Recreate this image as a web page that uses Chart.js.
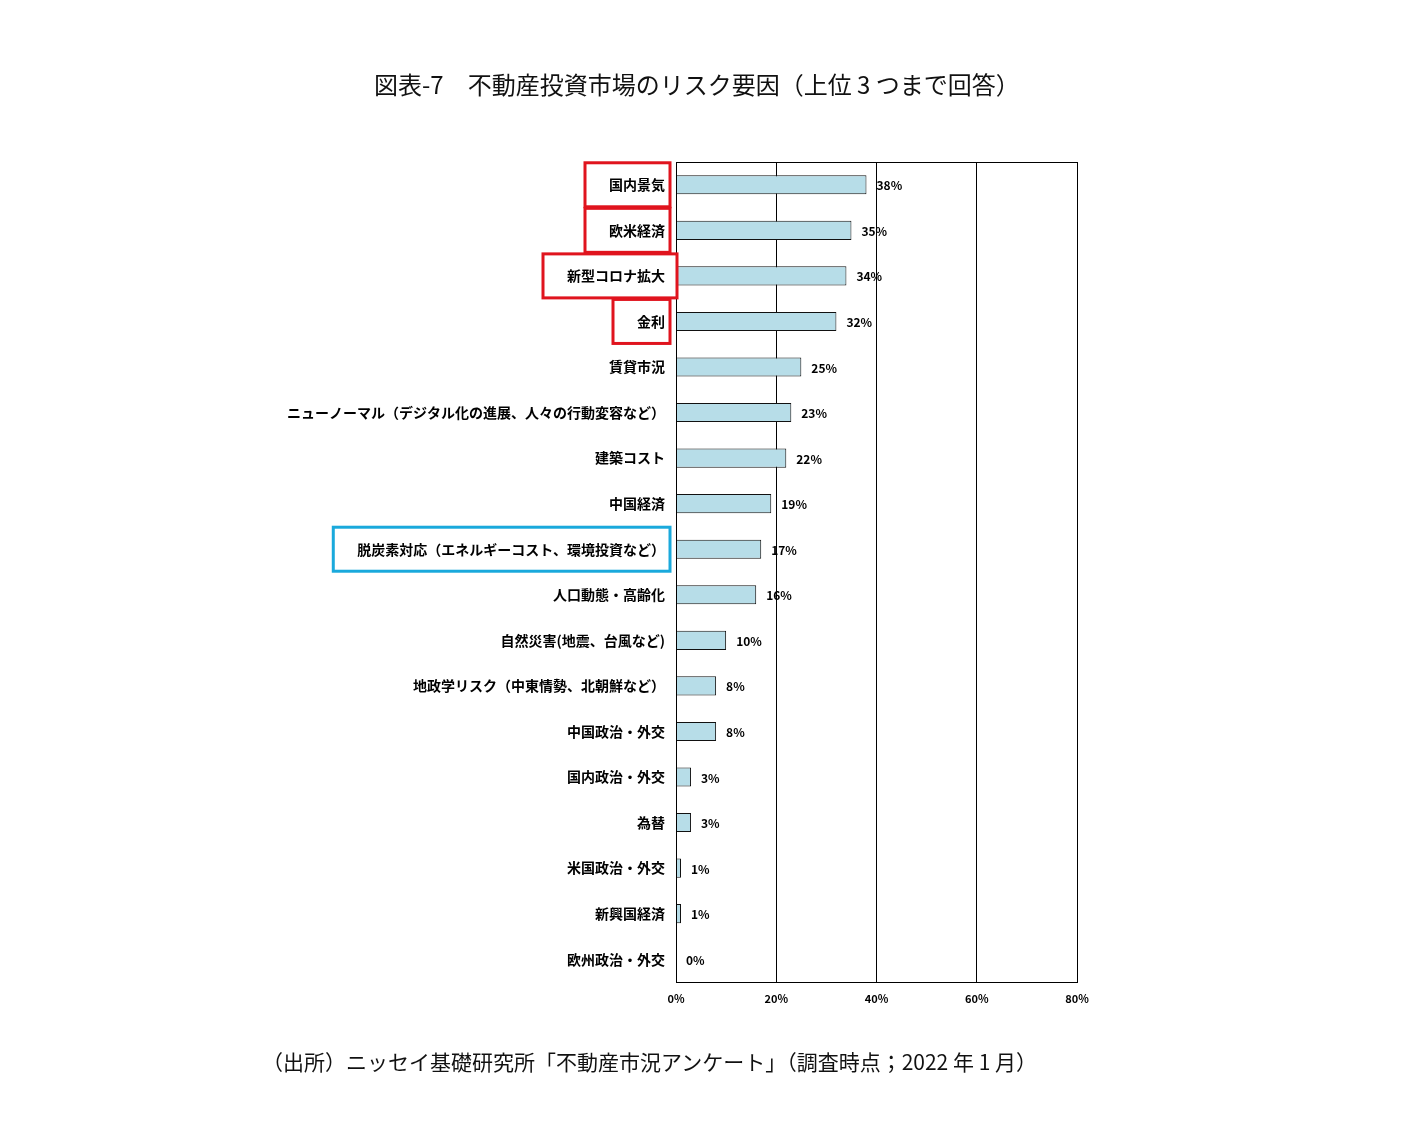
<!DOCTYPE html>
<html><head><meta charset="utf-8">
<script src="https://cdn.jsdelivr.net/npm/chart.js@4"></script>
<style>
body{margin:0;background:#fff;font-family:"Noto Sans CJK JP",sans-serif;}
#wrap{position:absolute;left:0;top:0;width:1415px;height:1128px;}
.t{position:absolute;color:#111;white-space:nowrap;}
</style></head><body>
<div id="wrap"><canvas id="c" width="1415" height="1128"></canvas></div>
<div class="t" style="left:374px;top:66px;font-size:24px;">図表-7　不動産投資市場のリスク要因（上位 3 つまで回答）</div>
<div class="t" style="left:262px;top:1046px;font-size:21px;">（出所）ニッセイ基礎研究所「不動産市況アンケート」（調査時点；2022 年 1 月）</div>
<script>
const categories = ["国内景気","欧米経済","新型コロナ拡大","金利","賃貸市況","ニューノーマル（デジタル化の進展、人々の行動変容など）","建築コスト","中国経済","脱炭素対応（エネルギーコスト、環境投資など）","人口動態・高齢化","自然災害(地震、台風など)","地政学リスク（中東情勢、北朝鮮など）","中国政治・外交","国内政治・外交","為替","米国政治・外交","新興国経済","欧州政治・外交"];
const values = [38,35,34,32,25,23,22,19,17,16,10,8,8,3,3,1,1,0];
const xTicks = [0,20,40,60,80];
const redBoxes = [0,1,2,3];
const blueBoxes = [8];
const font = '"Noto Sans CJK JP", sans-serif';

const overlay = {
  id: "overlay",
  afterDraw(chart) {
    const ctx = chart.ctx, x = chart.scales.x, y = chart.scales.y;
    const ca = chart.chartArea;
    ctx.save();
    ctx.strokeStyle = "#000"; ctx.lineWidth = 1;
    ctx.strokeRect(ca.left + 0.5, ca.top + 0.5, ca.right - ca.left, ca.bottom - ca.top);
    ctx.font = "bold 12px " + font; ctx.fillStyle = "#000"; ctx.textBaseline = "middle";
    values.forEach((v, i) => ctx.fillText(v + "%", x.getPixelForValue(v) + 10, y.getPixelForValue(i) + 1));
    ctx.font = "bold 14px " + font;
    ctx.lineWidth = 3;
    const box = (i, col) => {
      const w = ctx.measureText(categories[i]).width;
      const cy = y.getPixelForValue(i);
      const right = i === 2 ? 677 : 670;
      const left = 665 - w - 24;
      ctx.strokeStyle = col;
      ctx.strokeRect(left, cy - 22, right - left, 44);
    };
    redBoxes.forEach(i => box(i, "#e0141e"));
    blueBoxes.forEach(i => box(i, "#1aa9dc"));
    ctx.restore();
  }
};

new Chart(document.getElementById("c"), {
  type: "bar",
  data: { labels: categories, datasets: [{ data: values, backgroundColor: "#b7dde8", borderColor: "#111", borderWidth: 1, barPercentage: 0.42, categoryPercentage: 1 }] },
  options: {
    indexAxis: "y", responsive: false, animation: false,
    layout: { padding: { left: 0, right: 338, top: 162, bottom: 0 } },
    plugins: { legend: { display: false }, tooltip: { enabled: false } },
    scales: {
      x: {
        min: 0, max: 80,
        afterBuildTicks: s => { s.ticks = xTicks.map(v => ({ value: v })); },
        afterFit: s => { s.height = 146; },
        grid: { color: "#000", drawTicks: false },
        border: { display: false },
        ticks: { callback: v => v + "%", color: "#000", padding: 10, maxRotation: 0, font: { size: 11, weight: "bold", family: font } }
      },
      y: {
        afterFit: s => { s.width = 676; },
        grid: { display: false },
        border: { color: "#000" },
        ticks: { color: "#000", padding: 3, autoSkip: false, font: { size: 14, weight: "bold", family: font } }
      }
    }
  },
  plugins: [overlay]
});
</script>
</body></html>
